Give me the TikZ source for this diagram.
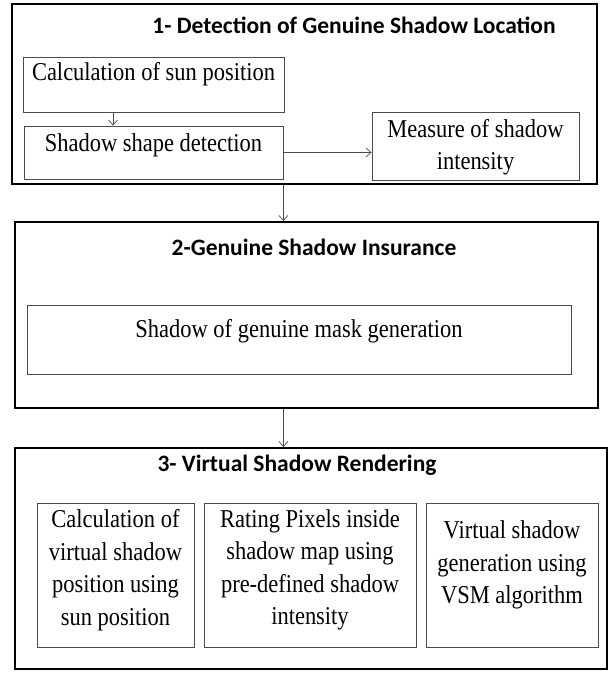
\documentclass[tikz,border=0pt]{standalone}
\usepackage{fontspec}
\setmainfont{Liberation Serif}
\newfontfamily\titlefont{Carlito}
\newfontfamily\boxfont[FakeStretch=0.875]{Liberation Serif}
\usetikzlibrary{positioning,arrows.meta}

\tikzset{
	outerbox/.style={draw=black, line width=2pt, inner sep=0pt},
	innerbox/.style={draw=black!70, line width=0.9pt, inner sep=0pt},
	boxtext/.style={font=\boxfont\fontsize{25.7}{32.5}\selectfont, align=center, inner sep=0pt},
	titletext/.style={font=\titlefont\bfseries\fontsize{23.5}{28}\selectfont, inner sep=0pt},
	flow/.style={-{Straight Barb[length=5pt,width=9pt]}, draw=black!70, line width=0.7pt}
}

\begin{document}
\begin{tikzpicture}[x=1pt, y=-1pt]
		%%%%% START %%%%%
		\useasboundingbox (0, 0) rectangle (615, 673);
		
		% stage 1
		\node[outerbox, minimum width=585, minimum height=180] (stage1) at (304.5, 94) {};
		\node[titletext] (stage1-title) at (354, 25) {1- Detection of Genuine Shadow Location};
		
		\node[innerbox, minimum width=261, minimum height=55] (sunpos) at (153.5, 84.5) {};
		\node[boxtext] (sunpos-text) at (153.5, 74) {Calculation of sun position};
		
		\node[innerbox, minimum width=259, minimum height=53] (shapedet) at (153.5, 152.5) {};
		\node[boxtext] (shapedet-text) at (153.5, 145) {Shadow shape detection};
		
		\node[innerbox, minimum width=207, minimum height=68] (intensity) at (475.5, 146) {};
		\node[boxtext] (intensity-text) at (475.5, 147) {Measure of shadow\\intensity};
		
		\draw[flow] ([xshift=-40.5]sunpos.south) -- ([xshift=-40.5]sunpos.south |- shapedet.north);
		\draw[flow] (shapedet.east) -- (shapedet.east -| intensity.west);
		
		% stage 2
		\node[outerbox, minimum width=583, minimum height=186] (stage2) at (306.5, 315) {};
		\node[titletext] (stage2-title) at (314, 247) {2-Genuine Shadow Insurance};
		
		\node[innerbox, minimum width=544, minimum height=69] (maskgen) at (299, 339.5) {};
		\node[boxtext] (maskgen-text) at (299, 331) {Shadow of genuine mask generation};
		
		% stage 3
		\node[outerbox, minimum width=592, minimum height=221] (stage3) at (311, 558.5) {};
		\node[titletext] (stage3-title) at (297, 465) {3- Virtual Shadow Rendering};
		
		\node[innerbox, minimum width=157, minimum height=144] (virtpos) at (115.5, 575) {};
		\node[boxtext] (virtpos-text) at (115.5, 570) {Calculation of\\virtual shadow\\position using\\sun position};
		
		\node[innerbox, minimum width=212, minimum height=144] (rating) at (310, 575) {};
		\node[boxtext] (rating-text) at (310, 570) {Rating Pixels inside\\shadow map using\\pre-defined shadow\\intensity};
		
		\node[innerbox, minimum width=172, minimum height=144] (vsm) at (512, 575) {};
		\node[boxtext] (vsm-text) at (512, 565) {Virtual shadow\\generation using\\VSM algorithm};
		
		% between stages
		\draw[flow] (stage1.south -| shapedet.east) -- (stage2.north -| shapedet.east);
		\draw[flow] (stage2.south -| shapedet.east) -- (stage3.north -| shapedet.east);
		%%%%% END %%%%%
\end{tikzpicture}
\end{document}
